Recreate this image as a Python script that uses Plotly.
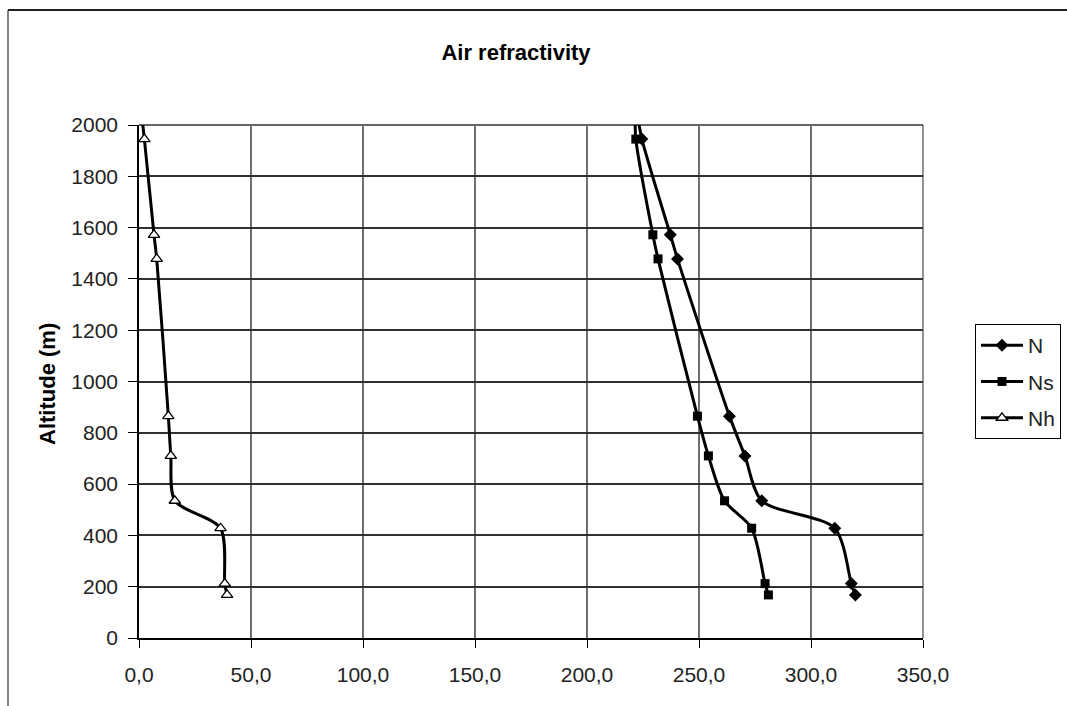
import plotly.graph_objects as go

altitude = [2015, 1945, 1572, 1478, 865, 710, 535, 428, 212, 168]
N = [223.0, 224.5, 237.2, 240.4, 263.6, 270.5, 278.0, 310.6, 318.0, 319.8]
Ns = [221.5, 221.8, 229.4, 231.7, 249.3, 254.2, 261.4, 273.5, 279.5, 281.0]
Nh = [1.5, 2.4, 6.7, 7.9, 13.1, 14.2, 16.0, 36.4, 38.3, 39.3]

x_ticks = [0, 50, 100, 150, 200, 250, 300, 350]
y_ticks = [0, 200, 400, 600, 800, 1000, 1200, 1400, 1600, 1800, 2000]

FONT = "Liberation Sans, Arial, sans-serif"

L, R, T, B = 139, 923, 125, 638
W, H = 1067, 706

def px_x(p):
    return (p - L) / (R - L)

def px_y(p):
    return (B - p) / (B - T)

fig = go.Figure()
series = [
    ("N", N, dict(symbol="diamond", size=10, color="black")),
    ("Ns", Ns, dict(symbol="square", size=9, color="black")),
    ("Nh", Nh, dict(symbol="triangle-up", size=10, color="white",
                    line=dict(color="black", width=1.3))),
]
for name, vals, mk in series:
    fig.add_trace(go.Scatter(
        x=vals, y=altitude, name=name, mode="lines+markers",
        line=dict(color="black", width=3, shape="spline", smoothing=0.8),
        marker=mk, legendgroup=name, cliponaxis=False,
    ))

fig.update_layout(
    width=W, height=H,
    margin=dict(l=L, r=W - R, t=T, b=H - B, autoexpand=False),
    paper_bgcolor="white", plot_bgcolor="white",
    separators=", ",
    font=dict(family=FONT, size=21, color="black"),
    showlegend=True,
    legend=dict(
        x=px_x(975), y=px_y(324), xanchor="left", yanchor="top",
        bordercolor="black", borderwidth=1, bgcolor="white",
        font=dict(family=FONT, size=21, color="#222"),
        traceorder="grouped", tracegroupgap=6,
        itemwidth=42,
    ),
    title=dict(
        text="<b>Air refractivity</b>", x=516 / W, xanchor="center",
        y=1 - 52 / H, yanchor="middle", xref="container", yref="container",
        font=dict(family=FONT, size=22, color="black"),
    ),
)

fig.update_xaxes(
    range=[0, 350], tickvals=x_ticks, tickformat=".1f",
    showgrid=True, gridcolor="#6e6e6e", gridwidth=1.5,
    showline=True, linecolor="black", linewidth=1.5, mirror=False,
    ticks="outside", ticklen=8, tickcolor="black", tickwidth=1.3,
    ticklabelstandoff=9,
    zeroline=False, tickfont=dict(family=FONT, size=21, color="#222"),
)
fig.update_yaxes(
    range=[0, 2000], tickvals=y_ticks, tickformat="d",
    showgrid=True, gridcolor="#303030", gridwidth=1.5,
    showline=True, linecolor="black", linewidth=1.5,
    ticks="outside", ticklen=9, tickcolor="black", tickwidth=1.3,
    ticklabelstandoff=6,
    zeroline=False, tickfont=dict(family=FONT, size=21, color="#222"),
)

# right and top edges of plot area
fig.add_shape(type="line", xref="paper", yref="paper", x0=1, x1=1, y0=0, y1=1,
              line=dict(color="#6e6e6e", width=1.5), layer="below")
fig.add_shape(type="line", xref="paper", yref="paper", x0=0, x1=1, y0=1, y1=1,
              line=dict(color="#303030", width=1.5), layer="below")

# chart border
fig.add_shape(type="line", xref="paper", yref="paper",
              x0=px_x(8), x1=px_x(8), y0=px_y(10), y1=px_y(706),
              line=dict(color="#808080", width=2))
fig.add_shape(type="line", xref="paper", yref="paper",
              x0=px_x(8), x1=px_x(1067), y0=px_y(10), y1=px_y(10),
              line=dict(color="#202020", width=2))

fig.add_annotation(
    text="<b>Altitude (m)</b>", textangle=-90, showarrow=False,
    xref="paper", yref="paper", x=px_x(47), y=px_y(384),
    xanchor="center", yanchor="middle",
    font=dict(family=FONT, size=22, color="black"),
)

fig.write_html("out.html")
